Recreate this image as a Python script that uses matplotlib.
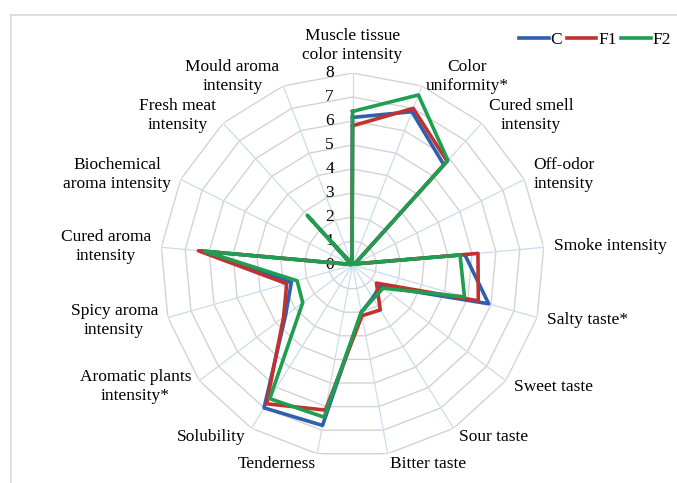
import numpy as np
import matplotlib.pyplot as plt
from matplotlib.lines import Line2D

# sensory attributes, clockwise from the top
categories = [
    "Muscle tissue\ncolor intensity", "Color\nuniformity*", "Cured smell\nintensity",
    "Off-odor\nintensity", "Smoke intensity", "Salty taste*", "Sweet taste",
    "Sour taste", "Bitter taste", "Tenderness", "Solubility",
    "Aromatic plants\nintensity*", "Spicy aroma\nintensity", "Cured aroma\nintensity",
    "Biochemical\naroma intensity", "Fresh meat\nintensity", "Mould aroma\nintensity",
]
c_vals = [6.15, 6.85, 5.65, 0.1, 4.7, 5.9, 1.45, 1.6, 2.0, 6.8, 7.0, 3.5, 2.65, 6.4, 0.05, 1.0, 0.05]
f1_vals = [5.8, 7.0, 5.85, 0.1, 5.25, 5.45, 1.25, 2.2, 2.15, 6.15, 6.8, 3.6, 2.85, 6.45, 0.05, 1.2, 0.05]
f2_vals = [6.4, 7.6, 5.9, 0.1, 4.5, 4.85, 1.6, 1.65, 2.0, 6.45, 6.55, 2.6, 2.4, 6.2, 0.05, 2.8, 0.05]
series_names = ["C", "F1", "F2"]
ring_ticks = list(range(0, 9))

plt.rcParams["font.family"] = ["Liberation Serif", "DejaVu Serif"]
FS = 12.5

fig = plt.figure(figsize=(6.77, 4.83), dpi=100)

# thin chart-area border (top and left edges visible)
bx, by = 11 / 677, 1 - 15 / 483
fig.add_artist(Line2D([bx, 1], [by, by], transform=fig.transFigure, color="#d9d9d9", lw=1.2))
fig.add_artist(Line2D([bx, bx], [0, by], transform=fig.transFigure, color="#d9d9d9", lw=1.2))

ax = fig.add_axes([0.2371, 0.0538, 0.5672, 0.795], projection="polar")
ax.set_theta_zero_location("N")
ax.set_theta_direction(-1)
ax.set_ylim(0, 8)
ax.grid(False)
ax.spines["polar"].set_visible(False)
ax.set_xticks([])
ax.set_yticks([])
ax.patch.set_alpha(0)

n = len(categories)
angles = np.linspace(0, 2 * np.pi, n, endpoint=False)
closed = np.append(angles, angles[0])

# spider-web grid
for r in ring_ticks[1:]:
    ax.plot(closed, [r] * (n + 1), color="#d3d3d3", lw=1.0, zorder=1)
for a in angles:
    ax.plot([a, a], [0, ring_ticks[-1]], color="#c9ddef", lw=0.9, zorder=1)

# ring value labels just left of the top spoke
for r in ring_ticks:
    ax.annotate(str(r), xy=(0, r), xytext=(-16.5, 0), textcoords="offset points",
                ha="center", va="center", fontsize=FS, zorder=2)

colors = ["#2f60ad", "#c0322e", "#1f9e4f"]
handles = []
for vals, col, name in zip([c_vals, f1_vals, f2_vals], colors, series_names):
    v = np.append(vals, vals[0])
    h, = ax.plot(closed, v, color=col, lw=2.6, label=name, zorder=3)
    handles.append(h)

# category labels
for a, lab in zip(angles, categories):
    s = np.sin(a)
    if abs(s) < 0.05:
        ha, va = "center", "bottom"
    elif s > 0:
        ha, va = "left", "center"
    else:
        ha, va = "right", "center"
    ax.text(a, 8.43, lab, ha=ha, va=va, multialignment="center",
            fontsize=FS, linespacing=1.25, clip_on=False)

fig.legend(handles, series_names, loc="center left", bbox_to_anchor=(519 / 677, 1 - 40 / 483),
           ncol=3, frameon=False, handlelength=1.7, handletextpad=0.12, columnspacing=0.25,
           borderaxespad=0, borderpad=0, fontsize=FS)

fig.savefig("out.png", dpi=100)
